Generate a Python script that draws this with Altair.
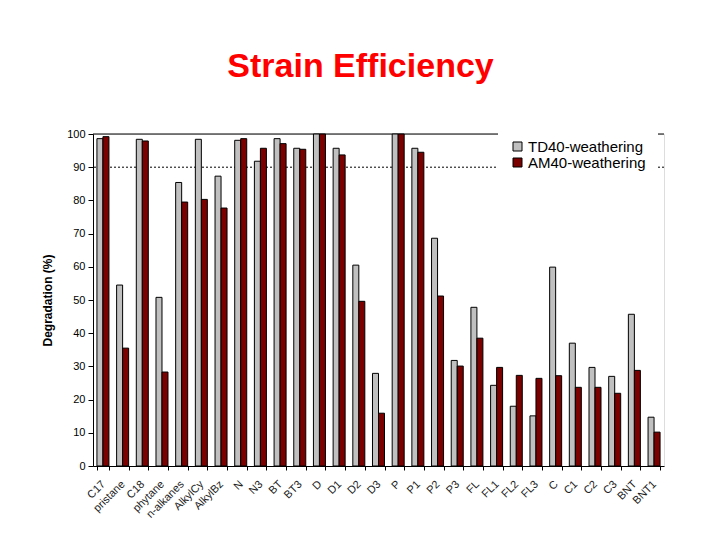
import altair as alt
import pandas as pd

categories = ["C17", "pristane", "C18", "phytane", "n-alkanes", "AlkylCy", "AlkylBz",
              "N", "N3", "BT", "BT3", "D", "D1", "D2", "D3", "P", "P1", "P2", "P3",
              "FL", "FL1", "FL2", "FL3", "C", "C1", "C2", "C3", "BNT", "BNT1"]
td40 = [98.6, 54.5, 98.4, 50.8, 85.4, 98.4, 87.3, 98.1, 91.8, 98.6, 95.7, 100, 95.7,
        60.5, 27.9, 100, 95.7, 68.6, 31.8, 47.8, 24.3, 18.0, 15.1, 59.9, 37.0, 29.7,
        27.0, 45.7, 14.7]
am40 = [99.2, 35.5, 97.9, 28.3, 79.5, 80.3, 77.7, 98.6, 95.7, 97.1, 95.4, 100, 93.7,
        49.6, 15.9, 100, 94.5, 51.2, 30.1, 38.5, 29.7, 27.3, 26.4, 27.2, 23.7, 23.7,
        21.9, 28.8, 10.2]
series = ["TD40-weathering", "AM40-weathering"]
colors = ["#c0c0c0", "#7b0000"]
y_ticks = [0, 10, 20, 30, 40, 50, 60, 70, 80, 90, 100]
ref_solid = [100]
ref_dotted = [90]

rows = []
for i, c in enumerate(categories):
    rows.append({"cat": c, "series": series[0], "value": td40[i]})
    rows.append({"cat": c, "series": series[1], "value": am40[i]})
df = pd.DataFrame(rows)

FONT = "Liberation Sans"
yscale = alt.Scale(domain=[0, 100], nice=False)
y_axis = alt.Axis(values=y_ticks, tickCount=11, grid=False, labelFont=FONT,
                  labelFontSize=11, labelColor="black", tickSize=5,
                  tickColor="black", domainColor="black", labelPadding=3,
                  labelOverlap=False,
                  titleFont=FONT, titleFontSize=12, titleFontWeight="bold",
                  titlePadding=12, titleColor="black")
YTITLE = "Degradation (%)"

bars = alt.Chart(df).mark_bar(stroke="black", strokeWidth=1).encode(
    x=alt.X("cat:N", sort=categories, title=None,
            scale=alt.Scale(paddingInner=0.39, paddingOuter=0.2),
            axis=alt.Axis(labelAngle=-45, labelFont=FONT, labelFontSize=11,
                          labelColor="#222222", tickBand="extent", tickSize=4,
                          tickColor="black", domainColor="black", labelPadding=8,
                          labelOffset=-4, labelOverlap=False)),
    xOffset=alt.XOffset("series:N", sort=series),
    y=alt.Y("value:Q", scale=yscale, title=YTITLE, axis=y_axis),
    color=alt.Color("series:N", sort=series,
                    scale=alt.Scale(domain=series, range=colors),
                    legend=alt.Legend(title=None, orient="none", legendX=405, legendY=-7,
                                      labelFont=FONT, labelFontSize=15, labelColor="black",
                                      symbolType="square", symbolSize=81,
                                      symbolStrokeColor="black", symbolStrokeWidth=1,
                                      symbolOpacity=1, fillColor="white", padding=12,
                                      rowPadding=-3, labelOffset=3, zindex=5)),
)

rule_solid = alt.Chart(pd.DataFrame({"y": ref_solid})).mark_rule(
    color="black", strokeWidth=1).encode(
    y=alt.Y("y:Q", scale=yscale, title=YTITLE, axis=y_axis))
rule_dot = alt.Chart(pd.DataFrame({"y": ref_dotted})).mark_rule(
    color="black", strokeWidth=1, strokeDash=[2, 2]).encode(
    y=alt.Y("y:Q", scale=yscale, title=YTITLE, axis=y_axis))

chart = alt.layer(rule_solid, rule_dot, bars).properties(
    width=571, height=332,
    autosize=alt.AutoSizeParams(type="none"),
    padding={"left": 85, "top": 126, "right": 48, "bottom": 66},
    title=alt.TitleParams("Strain Efficiency", font=FONT,
                          fontSize=34, fontWeight="bold", color="#ff0000",
                          anchor="middle", baseline="alphabetic", offset=16, dx=-18),
).configure_view(stroke=None).configure(background="white")

chart.save("out.html", embed_options={"renderer": "svg", "actions": False})
